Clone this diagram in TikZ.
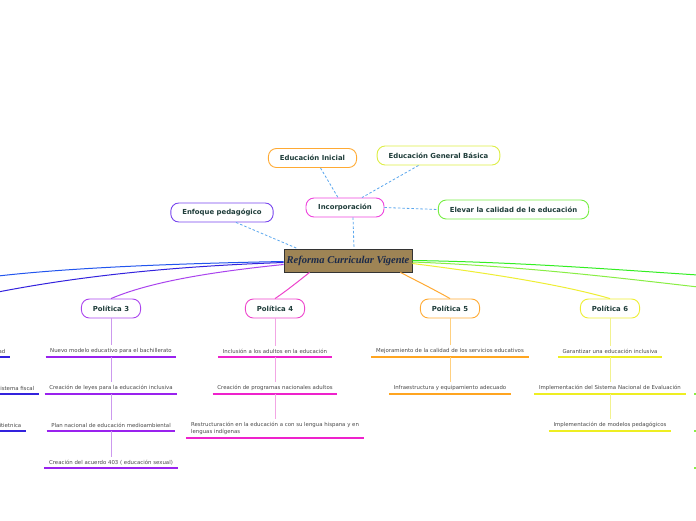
\documentclass[tikz,border=0pt]{standalone}
\usepackage{fontspec}
\setmainfont{Liberation Serif}
\newfontfamily\dvs{DejaVu Sans}
\usetikzlibrary{calc}
\definecolor{cfill}{HTML}{9E8455}
\definecolor{ctext}{HTML}{1B2A4A}
\definecolor{dash}{HTML}{5AA7EE}
\definecolor{ttext}{HTML}{1F3D3A}
\definecolor{ltext}{HTML}{4A4A4A}
\definecolor{cmag}{HTML}{EE44DD}
\definecolor{cora}{HTML}{FFAA33}
\definecolor{cyg}{HTML}{DDEE44}
\definecolor{cgrn}{HTML}{77EE44}
\definecolor{cvio}{HTML}{7744EE}
\definecolor{cp3}{HTML}{AA44EE}
\definecolor{cp3l}{HTML}{9922EE}
\definecolor{cp3v}{HTML}{CC99EE}
\definecolor{cp4}{HTML}{EE44CC}
\definecolor{cp4l}{HTML}{EE22CC}
\definecolor{cp4v}{HTML}{F2A6E4}
\definecolor{cp5}{HTML}{FFAA33}
\definecolor{cp5l}{HTML}{FFA520}
\definecolor{cp5v}{HTML}{FFD080}
\definecolor{cp6}{HTML}{EEEE33}
\definecolor{cp6l}{HTML}{EEEE22}
\definecolor{cp6v}{HTML}{F2F290}
\definecolor{cblue}{HTML}{2255EE}
\definecolor{cblue2}{HTML}{3322DD}
\definecolor{cgreen}{HTML}{33EE22}
\definecolor{cgreen2}{HTML}{88EE44}
\tikzset{
  pill/.style={draw=#1, line width=0.9pt, rounded corners=8pt, fill=white,
    minimum height=19pt, inner xsep=11.5pt, inner ysep=2pt,
    font=\dvs\fontsize{6.9}{8}\selectfont\bfseries, text=ttext},
  leaf/.style={anchor=south, font=\dvs\fontsize{5.4}{6.8}\selectfont, text=ltext,
    inner xsep=4.5pt, inner ysep=3pt},
  dsh/.style={draw=dash, dash pattern=on 2.5pt off 2pt, line width=0.8pt},
  uline/.style={draw=#1, line width=2pt},
  vline/.style={draw=#1, line width=0.8pt},
  br/.style={draw=#1, line width=1pt},
}
\begin{document}
\begin{tikzpicture}[x=1pt,y=-1pt]
\useasboundingbox (0,0) rectangle (696,520);
\clip (0,0) rectangle (696,520);
\fill[white] (0,0) rectangle (696,520);

% off-screen branch ends
\coordinate (lb1) at (-2,276);
\coordinate (lb2) at (-2,292);
\coordinate (rg1) at (698,275);
\coordinate (rg2) at (698,287);

% central node
\node[draw=black!80, fill=cfill, line width=0.8pt, minimum width=128pt, minimum height=23pt,
  inner sep=2pt, font=\fontsize{10.5}{12}\selectfont\bfseries\itshape, text=ctext] (c) at (348,260.5) {Reforma Curricular Vigente};

% Politica nodes
\node[pill=cp3] (p3) at (111,308.5) {Política 3};
\node[pill=cp4] (p4) at (275,308.5) {Política 4};
\node[pill=cp5] (p5) at (450,308.5) {Política 5};
\node[pill=cp6] (p6) at (610,308.5) {Política 6};

% main branches
\draw[br=cblue] ($(c.west)+(0,1)$) .. controls (150,264) and (60,269) .. (lb1);
\draw[br=cblue2] ($(c.west)+(0,2)$) .. controls (150,267) and (60,280) .. (lb2);
\draw[br=cp3] ($(c.west)+(0,4)$) .. controls (210,272) and (150,282) .. (p3.north);
\draw[br=cp4] ($(c.south west)+(26,0)$) .. controls (300,280) and (285,292) .. (p4.north);
\draw[br=cp5] ($(c.south east)+(-12,0)$) .. controls (415,280) and (435,290) .. (p5.north);
\draw[br=cp6] ($(c.east)+(0,3)$) .. controls (480,272) and (560,284) .. (p6.north);
\draw[br=cgreen] ($(c.east)+(0,0)$) .. controls (520,262) and (620,270) .. (rg1);
\draw[br=cgreen2] ($(c.east)+(0,1.5)$) .. controls (520,266) and (620,278) .. (rg2);

% top nodes
\node[pill=cmag, minimum width=78pt] (inc) at (345,207.5) {Incorporación};
\node[pill=cora] (ei) at (312.5,158) {Educación Inicial};
\node[pill=cyg] (egb) at (438.5,155.5) {Educación General Básica};
\node[pill=cgrn] (el) at (513.5,209.5) {Elevar la calidad de le educación};
\node[pill=cvio] (en) at (222,212.5) {Enfoque pedagógico};

\draw[dsh] ($(en.south)+(14,0)$) -- ($(c.north west)+(14,0)$);
\draw[dsh] ($(inc.south)+(8,0)$) -- ($(c.north)+(6,0)$);
\draw[dsh] ($(ei.south)+(8,0)$) -- ($(inc.north)+(-7,0)$);
\draw[dsh] ($(egb.south)+(-20,0)$) -- ($(inc.north)+(17,0)$);
\draw[dsh] (inc.east) -- (el.west);

% Politica 3 leaves
\node[leaf] (a1) at (111,357) {Nuevo modelo educativo para el bachillerato};
\node[leaf] (a2) at (111,394) {Creación de leyes para la educación inclusiva};
\node[leaf] (a3) at (111,431) {Plan nacional de educación medioambiental};
\node[leaf] (a4) at (111,468) {Creación del acuerdo 403 ( educación sexual)};
\foreach \n in {a1,a2,a3,a4} \draw[uline=cp3l] (\n.south west) -- (\n.south east);
\draw[vline=cp3v] (p3.south) -- (a1.north);
\draw[vline=cp3v] (a1.south) -- (a2.north);
\draw[vline=cp3v] (a2.south) -- (a3.north);
\draw[vline=cp3v] (a3.south) -- (a4.north);

% Politica 4 leaves
\node[leaf] (b1) at (275,357) {Inclusión a los adultos en la educación};
\node[leaf] (b2) at (275,394) {Creación de programas nacionales adultos};
\node[leaf, align=left] (b3) at (275,437.5) {Restructuración en la educación a con su lengua hispana y en\\lenguas indígenas};
\foreach \n in {b1,b2,b3} \draw[uline=cp4l] (\n.south west) -- (\n.south east);
\draw[vline=cp4v] (p4.south) -- (b1.north);
\draw[vline=cp4v] (b1.south) -- (b2.north);
\draw[vline=cp4v] (b2.south) -- (b3.north);

% Politica 5 leaves
\node[leaf] (d1) at (450,357) {Mejoramiento de la calidad de los servicios educativos};
\node[leaf] (d2) at (450,394) {Infraestructura y equipamiento adecuado};
\foreach \n in {d1,d2} \draw[uline=cp5l] (\n.south west) -- (\n.south east);
\draw[vline=cp5v] (p5.south) -- (d1.north);
\draw[vline=cp5v] (d1.south) -- (d2.north);

% Politica 6 leaves
\node[leaf] (e1) at (610,357) {Garantizar una educación inclusiva};
\node[leaf] (e2) at (610,394) {Implementación del Sistema Nacional de Evaluación};
\node[leaf] (e3) at (610,431) {Implementación de modelos pedagógicos};
\foreach \n in {e1,e2,e3} \draw[uline=cp6l] (\n.south west) -- (\n.south east);
\draw[vline=cp6v] (p6.south) -- (e1.north);
\draw[vline=cp6v] (e1.south) -- (e2.north);
\draw[vline=cp6v] (e2.south) -- (e3.north);

% cut-off left leaves
\node[leaf, anchor=south east] (f1) at (10,357) {ad};
\node[leaf, anchor=south east] (f2) at (39,394) {istema fiscal};
\node[leaf, anchor=south east] (f3) at (26,431) {itietnica};
\foreach \n in {f1,f2,f3} \draw[uline=cblue2] (\n.south west) -- (\n.south east);

% cut-off right leaves
\coordinate (g1) at (694,394);
\coordinate (g2) at (694,431);
\coordinate (g3) at (694,468);
\foreach \n in {g1,g2,g3} \draw[uline=cgreen2] (\n) -- ++(6,0);
\end{tikzpicture}
\end{document}
